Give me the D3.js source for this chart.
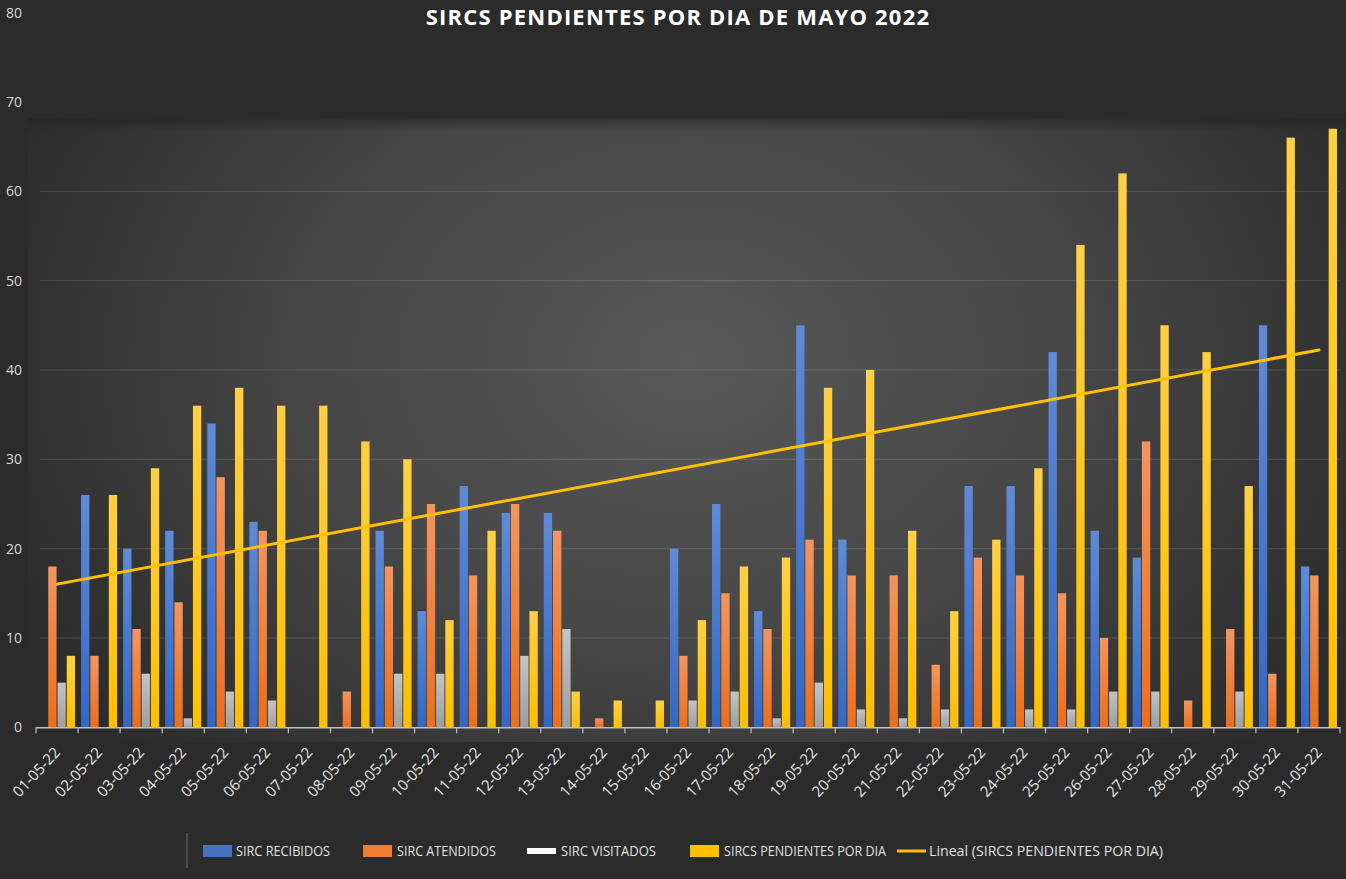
<!DOCTYPE html>
<html>
<head>
<meta charset="utf-8">
<script src="https://cdn.jsdelivr.net/npm/d3@7"></script>
<style>
  html, body { margin: 0; padding: 0; background: #2b2b2b; overflow: hidden; }
  svg { display: block; }
</style>
</head>
<body>
<svg id="chart" width="1346" height="879"></svg>
<script>
const categories = ["01-05-22","02-05-22","03-05-22","04-05-22","05-05-22","06-05-22","07-05-22","08-05-22","09-05-22","10-05-22","11-05-22","12-05-22","13-05-22","14-05-22","15-05-22","16-05-22","17-05-22","18-05-22","19-05-22","20-05-22","21-05-22","22-05-22","23-05-22","24-05-22","25-05-22","26-05-22","27-05-22","28-05-22","29-05-22","30-05-22","31-05-22"];
const recibidos  = [0,26,20,22,34,23,0,0,22,13,27,24,24,0,0,20,25,13,45,21,0,0,27,27,42,22,19,0,0,45,18];
const atendidos  = [18,8,11,14,28,22,0,4,18,25,17,25,22,1,0,8,15,11,21,17,17,7,19,17,15,10,32,3,11,6,17];
const visitados  = [5,0,6,1,4,3,0,0,6,6,0,8,11,0,0,3,4,1,5,2,1,2,0,2,2,4,4,0,4,0,0];
const pendientes = [8,26,29,36,38,36,36,32,30,12,22,13,4,3,3,12,18,19,38,40,22,13,21,29,54,62,45,42,27,66,67];
const yTicks = [0,10,20,30,40,50,60,70,80];
const seriesNames = ["SIRC RECIBIDOS","SIRC ATENDIDOS","SIRC VISITADOS","SIRCS PENDIENTES POR DIA"];
const trendName = "Lineal (SIRCS PENDIENTES POR DIA)";
const title = "SIRCS PENDIENTES POR DIA DE MAYO 2022";

const seriesKeys = ["rec","ate","vis","pen"];
const seriesData = { rec: recibidos, ate: atendidos, vis: visitados, pen: pendientes };
const colors = {
  rec: ["#5f8bd6", "#3467c4"],
  ate: ["#f39560", "#ea6f1c"],
  vis: ["#c4c4c4", "#9e9e9e"],
  pen: ["#ffd045", "#ffbf00"]
};

const svg = d3.select("#chart");
const W = 1346, H = 879;

// defs
const defs = svg.append("defs");
const bg = defs.append("radialGradient").attr("id","plotbg")
  .attr("gradientUnits","userSpaceOnUse")
  .attr("cx",690).attr("cy",360).attr("r",780)
  .attr("gradientTransform","translate(690,360) scale(1,0.75) translate(-690,-360)");
bg.append("stop").attr("offset","0%").attr("stop-color","#585858");
bg.append("stop").attr("offset","50%").attr("stop-color","#464646");
bg.append("stop").attr("offset","88%").attr("stop-color","#303030");
bg.append("stop").attr("offset","100%").attr("stop-color","#2b2b2b");

const topShade = defs.append("linearGradient").attr("id","topshade")
  .attr("x1",0).attr("y1",0).attr("x2",0).attr("y2",1);
topShade.append("stop").attr("offset","0%").attr("stop-color","#1e1e1e").attr("stop-opacity",0.55);
topShade.append("stop").attr("offset","100%").attr("stop-color","#1e1e1e").attr("stop-opacity",0);

seriesKeys.forEach(k => {
  const g = defs.append("linearGradient").attr("id","grad-"+k)
    .attr("x1",0).attr("y1",0).attr("x2",0).attr("y2",1);
  g.append("stop").attr("offset","0%").attr("stop-color",colors[k][0]);
  g.append("stop").attr("offset","100%").attr("stop-color",colors[k][1]);
});

// background
svg.append("rect").attr("width",W).attr("height",H).attr("fill","#2b2b2b");
svg.append("rect").attr("x",28).attr("y",118).attr("width",W-28).attr("height",624).attr("fill","url(#plotbg)");
svg.append("rect").attr("x",28).attr("y",118).attr("width",W-28).attr("height",14).attr("fill","url(#topshade)");

// scales
const y = d3.scaleLinear().domain([0,80]).range([727.3, 12.6]);
const x = d3.scaleBand().domain(categories).range([36, 1340]).paddingInner(0).paddingOuter(0);
const xi = d3.scaleBand().domain(seriesKeys).range([3, x.bandwidth()-3]).paddingInner(0.1);

// gridlines (only where the plot background is)
svg.append("g").selectAll("line")
  .data(yTicks.filter(t => t > 0 && y(t) > 125))
  .join("line")
  .attr("x1",40).attr("x2",1340)
  .attr("y1",d => y(d)).attr("y2",d => y(d))
  .attr("stroke","#ffffff").attr("stroke-opacity",0.1).attr("stroke-width",1.2);

// y labels
svg.append("g").selectAll("text")
  .data(yTicks)
  .join("text")
  .attr("x",22).attr("y",d => y(d))
  .attr("dy","0.35em")
  .attr("text-anchor","end")
  .attr("font-family","'Open Sans', sans-serif")
  .attr("font-size",14)
  .attr("fill","#d9d9d9")
  .text(d => d);

// bars
const gBars = svg.append("g");
seriesKeys.forEach(k => {
  gBars.append("g").selectAll("rect")
    .data(categories.map((c,i) => ({c, v: seriesData[k][i]})).filter(d => d.v > 0))
    .join("rect")
    .attr("x", d => x(d.c) + xi(k))
    .attr("width", xi.bandwidth())
    .attr("y", d => y(d.v))
    .attr("height", d => y(0) - y(d.v))
    .attr("fill","url(#grad-"+k+")");
});

// x axis
const xAxis = d3.axisBottom(x).tickSize(0).tickFormat("");
const gx = svg.append("g").attr("transform","translate(0,"+y(0)+")").call(xAxis);
gx.select(".domain").attr("stroke","#bfbfbf").attr("stroke-width",1.5);
// boundary ticks
const bounds = categories.map(c => x(c)).concat([x(categories[categories.length-1]) + x.bandwidth()]);
svg.append("g").selectAll("line").data(bounds).join("line")
  .attr("x1",d=>d).attr("x2",d=>d).attr("y1",y(0)).attr("y2",y(0)+6)
  .attr("stroke","#bfbfbf").attr("stroke-width",1.2);

// x labels
svg.append("g").selectAll("text")
  .data(categories)
  .join("text")
  .attr("transform", d => "translate(" + (x(d) + x.bandwidth()/2 + 4) + "," + (y(0) + 26) + ") rotate(-47)")
  .attr("text-anchor","end")
  .attr("font-family","'Open Sans', sans-serif")
  .attr("font-size",15)
  .attr("fill","#e6e6e6")
  .text(d => d);

// trend line (least squares on pendientes)
const n = pendientes.length;
const idx = d3.range(1, n+1);
const mx = d3.mean(idx), my = d3.mean(pendientes);
const slope = d3.sum(idx.map((xv,i) => (xv-mx)*(pendientes[i]-my))) / d3.sum(idx.map(xv => (xv-mx)*(xv-mx)));
const intercept = my - slope*mx;
const trendPts = [categories[0], categories[n-1]].map((c,j) => {
  const xv = j === 0 ? 1 : n;
  return [x(c) + x.bandwidth()/2, y(intercept + slope*xv)];
});
svg.append("path")
  .attr("d", d3.line()(trendPts))
  .attr("stroke","#ffc000").attr("stroke-width",3).attr("fill","none").attr("stroke-linecap","round");

// title
svg.append("text")
  .attr("x",678).attr("y",25)
  .attr("text-anchor","middle")
  .attr("font-family","'Open Sans', sans-serif")
  .attr("font-weight","bold")
  .attr("font-size",22)
  .attr("letter-spacing",1.2)
  .attr("fill","#ffffff")
  .text(title);

// legend
const lg = svg.append("g");
lg.append("line").attr("x1",187).attr("x2",187).attr("y1",833).attr("y2",868)
  .attr("stroke","#6a6a6a").attr("stroke-width",1);
const legendItems = [
  {name: seriesNames[0], kind:"rect", color:"#4472c4", sx:203, tx:236, tw:94},
  {name: seriesNames[1], kind:"rect", color:"#ed7d31", sx:363, tx:397, tw:99},
  {name: seriesNames[2], kind:"thin", color:"#ffffff", sx:527, tx:561, tw:95},
  {name: seriesNames[3], kind:"rect", color:"#ffc000", sx:690, tx:724, tw:162},
  {name: trendName, kind:"line", color:"#ffc000", sx:897, tx:929, tw:234}
];
const ly = 851;
legendItems.forEach(it => {
  if (it.kind === "rect") {
    lg.append("rect").attr("x",it.sx).attr("y",ly-6).attr("width",29).attr("height",12).attr("fill",it.color);
  } else if (it.kind === "thin") {
    lg.append("rect").attr("x",it.sx).attr("y",ly-3).attr("width",29).attr("height",6).attr("fill",it.color);
  } else {
    lg.append("line").attr("x1",it.sx).attr("x2",it.sx+29).attr("y1",ly).attr("y2",ly)
      .attr("stroke",it.color).attr("stroke-width",3);
  }
  lg.append("text")
    .attr("x",it.tx).attr("y",ly).attr("dy","0.36em")
    .attr("font-family","'Open Sans', sans-serif")
    .attr("font-size",15)
    .attr("fill","#e0e0e0")
    .attr("textLength",it.tw).attr("lengthAdjust","spacingAndGlyphs")
    .text(it.name);
});
</script>
</body>
</html>
